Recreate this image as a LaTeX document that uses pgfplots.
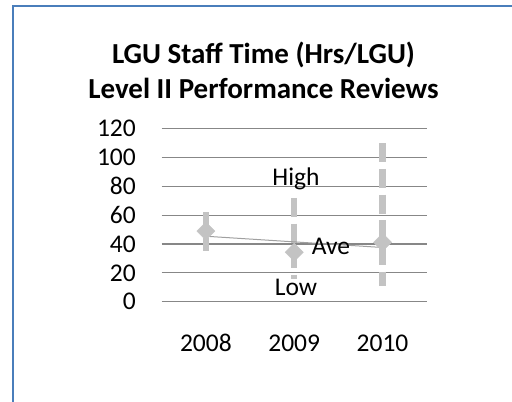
\documentclass[border=0pt]{standalone}
\usepackage{fontspec}
\setmainfont{Carlito}
\usepackage{pgfplots}
\pgfplotsset{compat=1.18}
\definecolor{gridgray}{HTML}{878787}
\definecolor{barcol}{HTML}{C3C3C3}
\definecolor{trendcol}{HTML}{A0A0A0}
\definecolor{bordercol}{HTML}{4A7EBB}
\begin{document}
\begin{tikzpicture}
\useasboundingbox (0,0) rectangle (512bp,402bp);
\draw[bordercol, line width=1.5bp] (13bp,0) -- (13bp,396bp) -- (512bp,396bp);
\node[anchor=base, font=\fontsize{29bp}{32bp}\selectfont\bfseries, inner sep=0pt] at (263.5bp,338.7bp) {LGU Staff Time (Hrs/LGU)};
\node[anchor=base, font=\fontsize{29bp}{32bp}\selectfont\bfseries, inner sep=0pt] at (263.5bp,303bp) {Level II Performance Reviews};
\begin{axis}[
  at={(161.7bp,100.3bp)}, anchor=south west,
  scale only axis, width=265bp, height=173bp,
  xmin=-0.5, xmax=2.5, ymin=0, ymax=120,
  xtick={0,1,2}, xticklabels={2008,2009,2010},
  ytick={0,20,...,120},
  axis line style={draw=none},
  major tick length=0pt,
  ymajorgrids, grid style={gridgray, line width=1.1bp},
  /pgf/number format/assume math mode=true,
  tick label style={font=\fontsize{25.5bp}{28bp}\selectfont, inner sep=0pt},
  yticklabel style={anchor=east, xshift=-25.7bp},
  xticklabel style={anchor=base, yshift=-50bp},
  clip=false,
]
% high-low lines
\addplot[barcol, line width=6.3bp, dash pattern=on 19bp off 6.7bp, no markers] coordinates {(0,62) (0,35)};
\addplot[barcol, line width=6.3bp, dash pattern=on 19bp off 6.7bp, no markers] coordinates {(1,72) (1,15.5)};
\addplot[barcol, line width=6.3bp, dash pattern=on 19bp off 6.7bp, no markers] coordinates {(2,110) (2,11)};
% average markers
\addplot[draw=none, mark=square*, mark size=6.4bp, mark options={rotate=45, fill=barcol, draw=barcol}] coordinates {(0,49) (1,34.3) (2,41.2)};
% linear trend of average
\addplot[trendcol, line width=1bp, no markers] coordinates {(0,45.4) (1,41.5) (2,37.6)};
% labels
\node[anchor=base, inner sep=0pt, font=\fontsize{25.5bp}{28bp}\selectfont] at (axis cs:1.02,80.7) {High};
\node[anchor=base, inner sep=0pt, font=\fontsize{25.5bp}{28bp}\selectfont] at (axis cs:1.02,4.2) {Low};
\node[anchor=base west, inner sep=0pt, font=\fontsize{25.5bp}{28bp}\selectfont] at (axis cs:1.198,32.4) {Ave};
\end{axis}
\end{tikzpicture}
\end{document}
